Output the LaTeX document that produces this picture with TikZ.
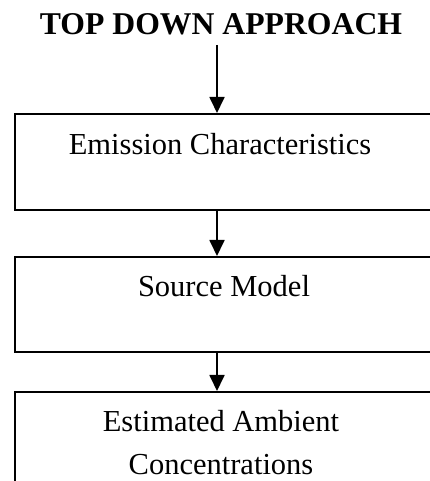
\documentclass[tikz,border=0pt]{standalone}
\usepackage{fontspec}
\setmainfont{Liberation Serif}
\usetikzlibrary{arrows.meta}
\begin{document}
\begin{tikzpicture}[x=1pt,y=1pt,
  boxstyle/.style={draw=black, line width=1.8pt, rectangle, inner sep=0pt,
    minimum width=426pt, anchor=north west},
  labelstyle/.style={font=\fontsize{30.5}{43.5}\selectfont, inner sep=0pt, align=center},
  flowarrow/.style={line width=1.8pt, -{Triangle[width=15pt,length=16pt]}}]
\useasboundingbox (0,0) rectangle (430,481);
\clip (0,0) rectangle (430,481);
% title
\node[font=\fontsize{31.7}{38}\selectfont\bfseries, inner sep=0pt, anchor=base] (title) at (221,446) {TOP DOWN APPROACH};
% boxes
\node[boxstyle, minimum height=96pt] (b1) at (14,368) {};
\node[boxstyle, minimum height=95pt] (b2) at (14,225) {};
\node[boxstyle, minimum height=130pt] (b3) at (14,90) {};
% labels
\node[labelstyle, anchor=base] (t1) at (220,326) {Emission Characteristics};
\node[labelstyle, anchor=base] (t2) at (224,184.3) {Source Model};
\node[labelstyle, anchor=south] (t3) at (221,6) {Estimated Ambient\\Concentrations};
% arrows
\coordinate (a0) at (217,436);
\draw[flowarrow] (a0) -- (a0 |- b1.north);
\draw[flowarrow] (a0 |- b1.south) -- (a0 |- b2.north);
\draw[flowarrow] (a0 |- b2.south) -- (a0 |- b3.north);
\end{tikzpicture}
\end{document}
